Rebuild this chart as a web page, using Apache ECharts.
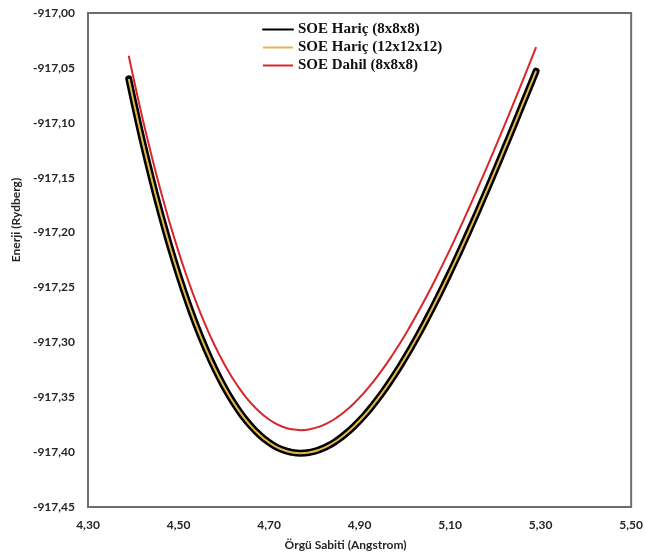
<!DOCTYPE html>
<html>
<head>
<meta charset="utf-8">
<script src="https://cdn.jsdelivr.net/npm/echarts@6/dist/echarts.min.js"></script>
<style>html,body{margin:0;padding:0;background:#fff}#c{width:646px;height:556px}</style>
</head>
<body>
<div id="c"></div>
<script>
var latticeX = [4.39, 4.41, 4.43, 4.45, 4.47, 4.49, 4.51, 4.53, 4.55, 4.57, 4.59, 4.61, 4.63, 4.65, 4.67, 4.69, 4.71, 4.73, 4.75, 4.77,
  4.79, 4.81, 4.83, 4.85, 4.87, 4.89, 4.91, 4.93, 4.95, 4.97, 4.99, 5.01, 5.03, 5.05, 5.07, 5.09, 5.11, 5.13, 5.15, 5.17,
  5.19, 5.21, 5.23, 5.25, 5.27, 5.29];
var soeHaric8 = [-917.0600, -917.0980, -917.1335, -917.1665, -917.1970, -917.2252, -917.2510, -917.2746, -917.2959, -917.3151,
  -917.3322, -917.3473, -917.3603, -917.3715, -917.3807, -917.3882, -917.3939, -917.3979, -917.4002, -917.4010,
  -917.4002, -917.3980, -917.3944, -917.3894, -917.3831, -917.3756, -917.3669, -917.3570, -917.3461, -917.3342,
  -917.3214, -917.3076, -917.2930, -917.2776, -917.2615, -917.2447, -917.2274, -917.2094, -917.1910, -917.1721,
  -917.1529, -917.1333, -917.1135, -917.0934, -917.0732, -917.0530];
var soeHaric12 = [-917.0600, -917.0980, -917.1335, -917.1665, -917.1970, -917.2252, -917.2510, -917.2746, -917.2959, -917.3151,
  -917.3322, -917.3473, -917.3603, -917.3715, -917.3807, -917.3882, -917.3939, -917.3979, -917.4002, -917.4010,
  -917.4002, -917.3980, -917.3944, -917.3894, -917.3831, -917.3756, -917.3669, -917.3570, -917.3461, -917.3342,
  -917.3214, -917.3076, -917.2930, -917.2776, -917.2615, -917.2447, -917.2274, -917.2094, -917.1910, -917.1721,
  -917.1529, -917.1333, -917.1135, -917.0934, -917.0732, -917.0530];
var soeDahil8 = [-917.0390, -917.0770, -917.1125, -917.1455, -917.1760, -917.2042, -917.2300, -917.2536, -917.2749, -917.2941,
  -917.3112, -917.3263, -917.3393, -917.3505, -917.3597, -917.3672, -917.3729, -917.3769, -917.3792, -917.3800,
  -917.3792, -917.3770, -917.3734, -917.3684, -917.3621, -917.3546, -917.3459, -917.3360, -917.3251, -917.3132,
  -917.3004, -917.2866, -917.2720, -917.2566, -917.2405, -917.2237, -917.2064, -917.1884, -917.1700, -917.1511,
  -917.1319, -917.1123, -917.0925, -917.0722, -917.0517, -917.0310];
var seriesNames = ['SOE Hariç (8x8x8)', 'SOE Hariç (12x12x12)', 'SOE Dahil (8x8x8)'];
var xTicks = [4.30, 4.50, 4.70, 4.90, 5.10, 5.30, 5.50];
var yTicks = [-917.45, -917.40, -917.35, -917.30, -917.25, -917.20, -917.15, -917.10, -917.05, -917.00];

function pairs(xs, ys) { return xs.map(function (x, i) { return [x, ys[i]]; }); }
function fmt(v) { return v.toFixed(2).replace('.', ','); }

var chart = echarts.init(document.getElementById('c'));
var axisFont = { fontFamily: 'Lato', fontWeight: 'bold', fontSize: 12, color: '#262626' };
chart.setOption({
  animation: false,
  backgroundColor: '#fff',
  grid: { left: 88, right: 14, top: 13, bottom: 43, show: true, borderColor: '#6e6e6e', borderWidth: 2, backgroundColor: 'transparent' },
  legend: {
    orient: 'vertical', left: 257, top: 17, itemWidth: 30, itemHeight: 14, itemGap: 3,
    data: seriesNames,
    itemStyle: { opacity: 0 },
    textStyle: { fontFamily: 'Liberation Serif', fontWeight: 'bold', fontSize: 15, color: '#111' }
  },
  xAxis: {
    type: 'value', min: xTicks[0], max: xTicks[xTicks.length - 1], interval: 0.2,
    name: 'Örgü Sabiti (Angstrom)', nameLocation: 'middle', nameGap: 32,
    nameTextStyle: { fontFamily: 'Lato', fontWeight: 'bold', fontSize: 12, color: '#262626', padding: [0, 28, 0, 0] },
    axisLine: { show: false }, axisTick: { show: false }, splitLine: { show: false },
    axisLabel: Object.assign({ margin: 12, formatter: fmt }, axisFont)
  },
  yAxis: {
    type: 'value', min: yTicks[0], max: yTicks[yTicks.length - 1], interval: 0.05,
    name: 'Enerji (Rydberg)', nameLocation: 'middle', nameGap: 64,
    nameTextStyle: { fontFamily: 'Lato', fontWeight: 'bold', fontSize: 12, color: '#262626', padding: [0, 0, 0, 80] },
    axisLine: { show: false }, axisTick: { show: false }, splitLine: { show: false },
    axisLabel: Object.assign({ margin: 13, formatter: fmt }, axisFont)
  },
  series: [
    { name: seriesNames[0], type: 'line', smooth: true, symbol: 'none', data: pairs(latticeX, soeHaric8), lineStyle: { color: '#000', width: 7, cap: 'round' }, itemStyle: { color: '#000' }, z: 2 },
    { name: seriesNames[1], type: 'line', smooth: true, symbol: 'none', data: pairs(latticeX, soeHaric12), lineStyle: { color: '#e2b84e', width: 2 }, itemStyle: { color: '#e2b84e' }, z: 3 },
    { name: seriesNames[2], type: 'line', smooth: true, symbol: 'none', data: pairs(latticeX, soeDahil8), lineStyle: { color: '#d9262b', width: 2 }, itemStyle: { color: '#d9262b' }, z: 4 }
  ]
});
</script>
</body>
</html>
